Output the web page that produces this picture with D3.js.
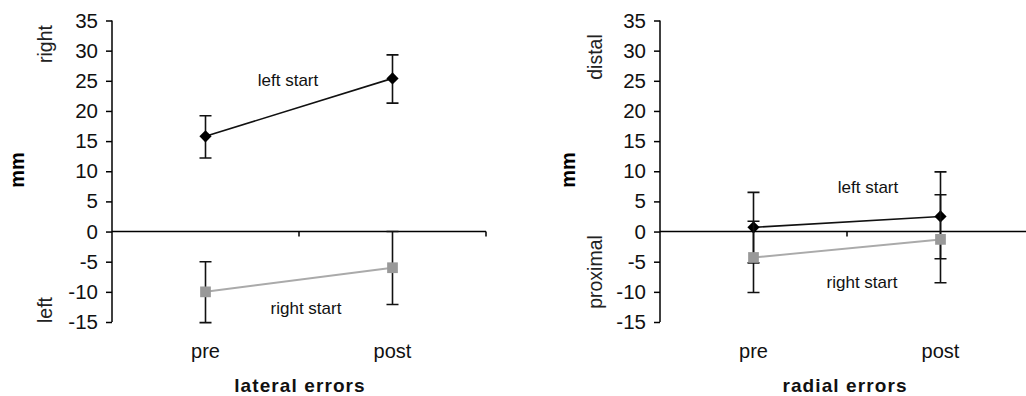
<!DOCTYPE html>
<html>
<head>
<meta charset="utf-8">
<script src="https://cdn.jsdelivr.net/npm/d3@7"></script>
<style>
  body { margin: 0; background: #fff; }
  svg { display: block; font-family: "Liberation Sans", Arial, sans-serif; }
</style>
</head>
<body>
<div id="chart"></div>
<script>
const categories = ['pre', 'post'];
const yTicks = [35, 30, 25, 20, 15, 10, 5, 0, -5, -10, -15];

// lateral errors
const lateralLeftStart = [15.8, 25.4];
const lateralLeftStartLo = [12.2, 21.3];
const lateralLeftStartHi = [19.2, 29.3];
const lateralRightStart = [-10, -6];
const lateralRightStartLo = [-15.1, -12.1];
const lateralRightStartHi = [-5, 0];

// radial errors
const radialLeftStart = [0.7, 2.5];
const radialLeftStartLo = [-5.2, -4.5];
const radialLeftStartHi = [6.5, 9.9];
const radialRightStart = [-4.3, -1.3];
const radialRightStartLo = [-10.1, -8.5];
const radialRightStartHi = [1.7, 6.1];

const svg = d3.select('#chart').append('svg')
  .attr('width', 1026)
  .attr('height', 396);

function drawPanel(opts) {
  const g = svg.append('g').attr('transform', `translate(${opts.left},0)`);

  const y = d3.scaleLinear().domain([-15, 35]).range([322, 20.5]);
  const x = d3.scaleBand().domain(categories).range([0, 374]);

  // y axis
  const yAxis = g.append('g')
    .call(d3.axisLeft(y).tickValues(yTicks).tickSize(6).tickPadding(8).tickFormat(d3.format('d')));
  yAxis.select('.domain').attr('stroke-width', 1.5).attr('d', 'M0,' + y(35) + 'V' + y(-15));
  yAxis.selectAll('.tick line').attr('stroke-width', 1.5);
  yAxis.selectAll('.tick text')
    .style('font-size', '20.5px')
    .attr('fill', '#111')
    .text(d => d < 0 ? '-' + Math.abs(d) : d);

  // x axis at zero
  const xg = g.append('g').attr('transform', `translate(0,${y(0)})`);
  xg.append('line')
    .attr('x1', 0).attr('x2', opts.axisEnd)
    .attr('stroke', '#000').attr('stroke-width', 1.5);
  xg.selectAll('.xtick')
    .data([1, 2])
    .enter().append('line')
    .attr('x1', d => x.step() * d).attr('x2', d => x.step() * d)
    .attr('y1', 0).attr('y2', 5)
    .attr('stroke', '#000').attr('stroke-width', 1.5);

  g.selectAll('.xlabel')
    .data(categories)
    .enter().append('text')
    .attr('x', d => x(d) + x.bandwidth() / 2)
    .attr('y', 358)
    .attr('text-anchor', 'middle')
    .style('font-size', '20px')
    .attr('fill', '#111')
    .text(d => d);

  // series
  opts.series.forEach(s => {
    const pts = categories.map((c, i) => ({ c, v: s.values[i], lo: s.lo[i], hi: s.hi[i] }));
    const cx = d => x(d.c) + x.bandwidth() / 2;

    g.selectAll(null).data(pts).enter().append('path')
      .attr('d', d => `M${cx(d)},${y(d.lo)}V${y(d.hi)}M${cx(d) - 6},${y(d.lo)}h12M${cx(d) - 6},${y(d.hi)}h12`)
      .attr('stroke', '#111').attr('stroke-width', 1.6).attr('fill', 'none');

    g.append('path')
      .datum(pts)
      .attr('d', d3.line().x(cx).y(d => y(d.v)))
      .attr('stroke', s.lineColor).attr('stroke-width', s.lineWidth).attr('fill', 'none');

    g.selectAll(null).data(pts).enter().append('path')
      .attr('transform', d => `translate(${cx(d)},${y(d.v)})`)
      .attr('d', d3.symbol().type(s.symbol).size(s.symbolSize))
      .attr('fill', s.markerColor);

    g.append('text')
      .attr('x', s.labelPos[0]).attr('y', s.labelPos[1])
      .attr('text-anchor', 'middle')
      .style('font-size', '17px')
      .attr('fill', '#111')
      .text(s.label);
  });

  // axis titles
  g.append('text')
    .attr('transform', `translate(${opts.mmX},170) rotate(-90)`)
    .attr('text-anchor', 'middle')
    .attr('dy', '0.35em')
    .style('font-size', '20px').style('font-weight', 'bold')
    .text('mm');

  g.append('text')
    .attr('transform', `translate(${opts.sideX},${opts.topLabelY}) rotate(-90)`)
    .attr('text-anchor', 'middle')
    .attr('dy', '0.35em')
    .style('font-size', '19.5px')
    .attr('fill', '#222')
    .text(opts.topLabel);

  g.append('text')
    .attr('transform', `translate(${opts.sideX},${opts.bottomLabelY}) rotate(-90)`)
    .attr('text-anchor', 'middle')
    .attr('dy', '0.35em')
    .style('font-size', '19.5px')
    .attr('fill', '#222')
    .text(opts.bottomLabel);

  g.append('text')
    .attr('x', opts.titleX).attr('y', 392)
    .attr('text-anchor', 'middle')
    .style('font-size', '19px').style('font-weight', 'bold')
    .style('letter-spacing', '1.1px')
    .attr('fill', '#111')
    .text(opts.title);
}

drawPanel({
  left: 112,
  axisEnd: 374,
  mmX: -95,
  sideX: -67,
  topLabel: 'right', topLabelY: 44,
  bottomLabel: 'left', bottomLabelY: 310,
  title: 'lateral errors', titleX: 188,
  series: [
    { values: lateralLeftStart, lo: lateralLeftStartLo, hi: lateralLeftStartHi,
      lineColor: '#111', lineWidth: 1.6, markerColor: '#000', symbol: d3.symbolDiamond2, symbolSize: 95,
      label: 'left start', labelPos: [176, 86] },
    { values: lateralRightStart, lo: lateralRightStartLo, hi: lateralRightStartHi,
      lineColor: '#aaa', lineWidth: 2, markerColor: '#999', symbol: d3.symbolSquare, symbolSize: 115,
      label: 'right start', labelPos: [194, 314] }
  ]
});

drawPanel({
  left: 660,
  axisEnd: 380,
  mmX: -92,
  sideX: -65,
  topLabel: 'distal', topLabelY: 57,
  bottomLabel: 'proximal', bottomLabelY: 272,
  title: 'radial errors', titleX: 185,
  series: [
    { values: radialLeftStart, lo: radialLeftStartLo, hi: radialLeftStartHi,
      lineColor: '#111', lineWidth: 1.6, markerColor: '#000', symbol: d3.symbolDiamond2, symbolSize: 95,
      label: 'left start', labelPos: [208, 193] },
    { values: radialRightStart, lo: radialRightStartLo, hi: radialRightStartHi,
      lineColor: '#aaa', lineWidth: 2, markerColor: '#999', symbol: d3.symbolSquare, symbolSize: 115,
      label: 'right start', labelPos: [202, 288] }
  ]
});
</script>
</body>
</html>
